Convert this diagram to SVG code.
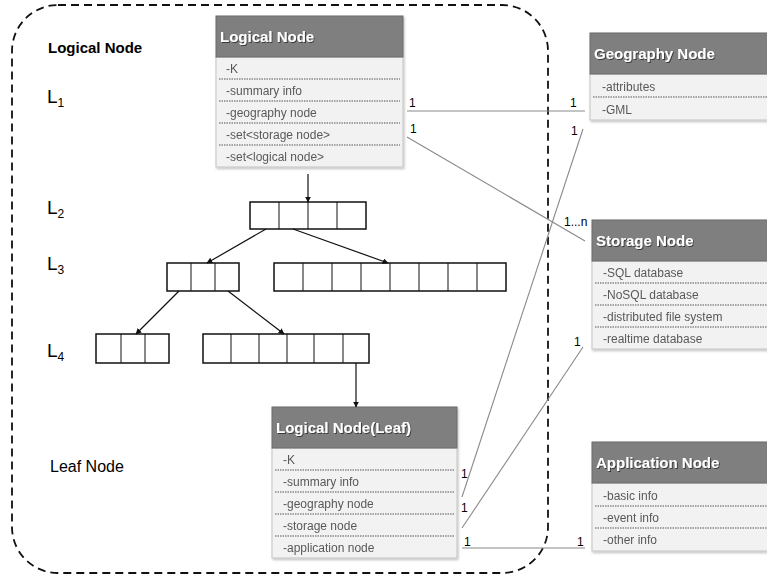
<svg xmlns="http://www.w3.org/2000/svg" width="767" height="578" viewBox="0 0 767 578">
<style>
.hdr{fill:#7f7f7f;stroke:#6a6a6a;stroke-width:1}
.body{fill:#f2f2f2;stroke:#c4c4c4;stroke-width:1}
.sep{stroke:#555;stroke-width:1;stroke-dasharray:1.5 1}
.ht{font-family:"Liberation Sans",Arial,sans-serif;font-weight:bold;font-size:15px;fill:#fff}
.rt{font-family:"Liberation Sans",Arial,sans-serif;font-size:12px;fill:#595959}
.lbl{font-family:"Liberation Sans",Arial,sans-serif;fill:#000}
.mult{font-family:"Liberation Sans",Arial,sans-serif;font-size:12px;fill:#000}
.cell{fill:#fff;stroke:#111;stroke-width:1.5}
.div{stroke:#111;stroke-width:1}
.arr{stroke:#111;stroke-width:1.2;fill:none;marker-end:url(#ah)}
.conn{stroke:#8a8a8a;stroke-width:1.1;fill:none}
</style>
<defs>
<marker id="ah" viewBox="0 0 10 10" refX="9" refY="5" markerWidth="6" markerHeight="6" orient="auto-start-reverse" markerUnits="userSpaceOnUse">
<path d="M0,0 L10,5 L0,10 z" fill="#111"/>
</marker>
<filter id="sh" x="-5%" y="-5%" width="115%" height="115%">
<feDropShadow dx="1" dy="1.5" stdDeviation="1" flood-color="#000" flood-opacity="0.25"/>
</filter>
<filter id="ts" x="-5%" y="-20%" width="115%" height="150%">
<feDropShadow dx="1" dy="1" stdDeviation="0.6" flood-color="#000" flood-opacity="0.55"/>
</filter>
</defs>
<rect width="767" height="578" fill="#fff"/>

<g id="boundary">
<rect x="12" y="5" width="536" height="568" rx="46" ry="46" fill="none" stroke="#111" stroke-width="1.8" stroke-dasharray="8 5"/>
</g>

<g id="level-labels">
<text class="lbl" x="48" y="53" font-size="15" font-weight="bold">Logical Node</text>
<text class="lbl" x="47" y="103" font-size="19">L<tspan font-size="12" dy="4">1</tspan></text>
<text class="lbl" x="47" y="214" font-size="19">L<tspan font-size="12" dy="4">2</tspan></text>
<text class="lbl" x="47" y="270" font-size="19">L<tspan font-size="12" dy="4">3</tspan></text>
<text class="lbl" x="47" y="357" font-size="19">L<tspan font-size="12" dy="4">4</tspan></text>
<text class="lbl" x="50" y="472" font-size="16">Leaf Node</text>
</g>

<g id="logical-node" filter="url(#sh)">
<rect class="body" x="216" y="57" width="187" height="110"/>
<rect class="hdr" x="216" y="16" width="187" height="41"/>
<text class="ht" x="220" y="42" filter="url(#ts)">Logical Node</text>
<line class="sep" x1="219" y1="79" x2="400" y2="79"/>
<line class="sep" x1="219" y1="101" x2="400" y2="101"/>
<line class="sep" x1="219" y1="123" x2="400" y2="123"/>
<line class="sep" x1="219" y1="145" x2="400" y2="145"/>
<text class="rt" x="226" y="73">-K</text>
<text class="rt" x="226" y="95">-summary info</text>
<text class="rt" x="226" y="117">-geography node</text>
<text class="rt" x="226" y="139">-set&lt;storage node&gt;</text>
<text class="rt" x="226" y="161">-set&lt;logical node&gt;</text>
</g>

<g id="geography-node" filter="url(#sh)">
<rect class="body" x="590" y="74" width="182" height="46"/>
<rect class="hdr" x="590" y="33" width="182" height="41"/>
<text class="ht" x="594" y="59" filter="url(#ts)">Geography Node</text>
<line class="sep" x1="593" y1="97" x2="767" y2="97"/>
<text class="rt" x="602" y="91">-attributes</text>
<text class="rt" x="602" y="114">-GML</text>
</g>

<g id="storage-node" filter="url(#sh)">
<rect class="body" x="592" y="261" width="180" height="88"/>
<rect class="hdr" x="592" y="220" width="180" height="41"/>
<text class="ht" x="596" y="246" filter="url(#ts)">Storage Node</text>
<line class="sep" x1="595" y1="283" x2="767" y2="283"/>
<line class="sep" x1="595" y1="305" x2="767" y2="305"/>
<line class="sep" x1="595" y1="327" x2="767" y2="327"/>
<text class="rt" x="603" y="277">-SQL database</text>
<text class="rt" x="603" y="299">-NoSQL database</text>
<text class="rt" x="603" y="321">-distributed file system</text>
<text class="rt" x="603" y="343">-realtime database</text>
</g>

<g id="application-node" filter="url(#sh)">
<rect class="body" x="592" y="483" width="180" height="68"/>
<rect class="hdr" x="592" y="442" width="180" height="41"/>
<text class="ht" x="596" y="468" filter="url(#ts)">Application Node</text>
<line class="sep" x1="595" y1="506" x2="767" y2="506"/>
<line class="sep" x1="595" y1="528" x2="767" y2="528"/>
<text class="rt" x="603" y="500">-basic info</text>
<text class="rt" x="603" y="522">-event info</text>
<text class="rt" x="603" y="544">-other info</text>
</g>

<g id="leaf-node" filter="url(#sh)">
<rect class="body" x="272" y="448" width="185" height="110"/>
<rect class="hdr" x="272" y="407" width="185" height="41"/>
<text class="ht" x="276" y="433" filter="url(#ts)">Logical Node(Leaf)</text>
<line class="sep" x1="275" y1="470" x2="454" y2="470"/>
<line class="sep" x1="275" y1="492" x2="454" y2="492"/>
<line class="sep" x1="275" y1="514" x2="454" y2="514"/>
<line class="sep" x1="275" y1="536" x2="454" y2="536"/>
<text class="rt" x="283" y="464">-K</text>
<text class="rt" x="283" y="486">-summary info</text>
<text class="rt" x="283" y="508">-geography node</text>
<text class="rt" x="283" y="530">-storage node</text>
<text class="rt" x="283" y="552">-application node</text>
</g>

<g id="l2-box">
<rect class="cell" x="250" y="202" width="116" height="27"/>
<line class="div" x1="279" y1="202" x2="279" y2="229"/>
<line class="div" x1="308" y1="202" x2="308" y2="229"/>
<line class="div" x1="337" y1="202" x2="337" y2="229"/>
</g>
<g id="l3-left-box">
<rect class="cell" x="167" y="263" width="72" height="28"/>
<line class="div" x1="191" y1="263" x2="191" y2="291"/>
<line class="div" x1="215" y1="263" x2="215" y2="291"/>
</g>
<g id="l3-right-box">
<rect class="cell" x="274" y="263" width="232" height="28"/>
<line class="div" x1="303" y1="263" x2="303" y2="291"/>
<line class="div" x1="332" y1="263" x2="332" y2="291"/>
<line class="div" x1="361" y1="263" x2="361" y2="291"/>
<line class="div" x1="390" y1="263" x2="390" y2="291"/>
<line class="div" x1="419" y1="263" x2="419" y2="291"/>
<line class="div" x1="448" y1="263" x2="448" y2="291"/>
<line class="div" x1="477" y1="263" x2="477" y2="291"/>
</g>
<g id="l4-left-box">
<rect class="cell" x="96" y="334" width="73" height="29"/>
<line class="div" x1="121" y1="334" x2="121" y2="363"/>
<line class="div" x1="145" y1="334" x2="145" y2="363"/>
</g>
<g id="l4-right-box">
<rect class="cell" x="203" y="334" width="166" height="29"/>
<line class="div" x1="231" y1="334" x2="231" y2="363"/>
<line class="div" x1="259" y1="334" x2="259" y2="363"/>
<line class="div" x1="287" y1="334" x2="287" y2="363"/>
<line class="div" x1="314" y1="334" x2="314" y2="363"/>
<line class="div" x1="343" y1="334" x2="343" y2="363"/>
</g>

<g id="connectors">
<line class="arr" x1="308" y1="174" x2="308" y2="202"/>
<line class="arr" x1="266" y1="229" x2="207" y2="263"/>
<line class="arr" x1="293" y1="229" x2="388" y2="263"/>
<line class="arr" x1="179" y1="291" x2="136" y2="334"/>
<line class="arr" x1="228" y1="291" x2="284" y2="334"/>
<line class="arr" x1="356" y1="363" x2="356" y2="407"/>

<line class="conn" x1="407" y1="111" x2="585" y2="111"/>
<line class="conn" x1="407" y1="137" x2="585" y2="241"/>
<line class="conn" x1="462" y1="497" x2="583" y2="129"/>
<line class="conn" x1="462" y1="528" x2="583" y2="347"/>
<line class="conn" x1="462" y1="548" x2="585" y2="548"/>

<text class="mult" x="409" y="107">1</text>
<text class="mult" x="570" y="107">1</text>
<text class="mult" x="410" y="133">1</text>
<text class="mult" x="571" y="135">1</text>
<text class="mult" x="564" y="226">1...n</text>
<text class="mult" x="574" y="346">1</text>
<text class="mult" x="461" y="478">1</text>
<text class="mult" x="461" y="512">1</text>
<text class="mult" x="464" y="546">1</text>
<text class="mult" x="577" y="546">1</text>
</g>
</svg>
